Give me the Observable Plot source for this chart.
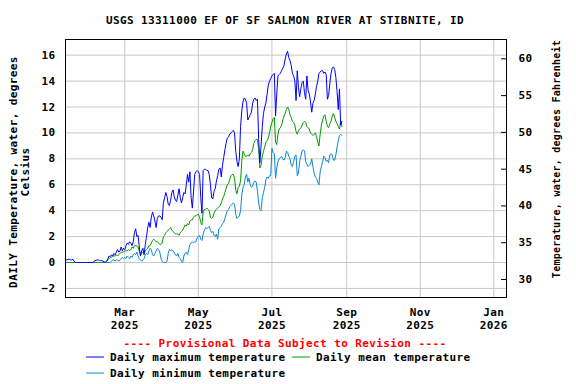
<!DOCTYPE html>
<html><head><meta charset="utf-8">
<script src="https://cdn.jsdelivr.net/npm/d3@7"></script>
<script src="https://cdn.jsdelivr.net/npm/@observablehq/plot@0.6"></script>
<style>
body{margin:0;background:#fff;overflow:hidden}
#chart{position:relative;width:576px;height:384px}
</style></head><body><div id="chart"></div>
<script>
// Daily values starting 2025-01-10 (one value per day), degrees Celsius
const startYear = 2025, startMonth = 0, startDay = 10;
const maxTemp = [
0.1,0.2,0.2,0.25,0.25,0.2,0.2,0.25,0.1,0,
0,0,0,0,0,0,0,0,0,0,
0,0,0,0,0,0.15,0.15,0.2,0.2,0.15,
0.15,0.15,0.1,0.05,0.05,0.1,0.3,0.5,0.45,0.6,
0.5,0.7,0.6,0.8,1.0,0.8,0.9,1.2,0.9,1.1,
1.0,1.3,1.5,1.4,1.6,1.5,1.3,1.6,2.3,2.6,
2.0,2.1,1.2,0.5,0.9,1.1,0.6,1.4,2.0,2.7,
3.1,2.7,3.5,3.9,3.6,3.2,2.7,3.4,3.6,3.6,
3.5,3.3,4.6,5.0,5.4,5.1,4.5,4.4,4.8,5.4,
5.6,5.1,4.8,4.7,5.2,5.7,5.0,4.6,5.0,5.4,
5.3,6.0,6.8,6.2,7.0,5.0,4.2,5.5,6.8,7.0,
7.1,7.0,6.8,5.0,3.8,7.1,7.2,7.2,7.1,7.1,
6.8,6.0,5.0,4.9,5.5,5.7,6.3,6.7,7.2,7.3,
6.6,7.5,8.1,8.7,9.2,9.6,9.7,9.9,10.0,10.1,
10.2,10.0,8.6,7.8,7.4,8.0,10.5,11.7,12.4,12.7,
12.6,12.3,11.0,11.2,11.4,11.6,12.3,12.6,12.7,12.5,
12.6,9.5,7.7,9.0,10.5,11.5,12.0,12.3,13.0,13.7,
14.0,14.2,14.4,14.5,14.6,11.3,13.0,14.4,14.5,14.6,
14.8,15.0,15.2,15.7,16.1,16.3,15.8,15.6,15.2,14.6,
14.4,14.0,12.5,14.8,13.5,12.8,13.4,13.9,14.0,13.1,
12.6,14.4,13.3,13.0,12.4,11.6,12.3,12.5,13.0,13.6,
14.0,14.6,14.7,14.8,14.8,14.6,14.7,14.5,12.6,12.9,
13.8,14.6,15.0,15.1,14.9,14.3,13.2,11.8,13.4,10.6,
10.9];
const meanTemp = [
0,0,0,0,0,0,0,0,0,0,
0,0,0,0,0,0,0,0,0,0,
0,0,0,0,0,0,0,0,0,0,
0,0,0,0,0,0.1,0.2,0.3,0.4,0.4,
0.5,0.5,0.5,0.6,0.5,0.6,0.7,0.8,0.8,0.8,
0.9,0.9,0.9,1.0,0.9,1.0,1.2,1.1,1.3,1.3,
1.3,1.2,0.9,0.6,0.7,0.8,0.7,0.9,1.0,1.1,
1.3,1.3,1.5,1.7,1.8,1.7,1.6,1.6,1.5,1.4,
1.4,1.5,2.0,2.1,2.3,2.4,2.5,2.6,2.7,2.5,
2.4,2.3,2.2,2.2,2.2,2.1,2.3,2.4,2.5,2.7,
2.9,2.8,3.0,2.9,3.2,3.3,3.3,3.5,3.6,3.6,
3.7,3.7,3.5,3.1,2.9,3.9,4.1,4.1,4.2,4.1,
4.0,3.5,3.4,3.5,3.8,4.0,4.1,4.2,4.3,4.4,
4.6,4.9,5.1,5.4,5.7,6.0,6.1,6.4,6.7,6.8,
6.8,6.5,5.6,5.3,5.8,5.9,6.3,7.8,8.6,8.4,
8.2,8.2,8.3,8.2,8.4,8.5,8.7,9.2,9.4,9.5,
9.5,8.8,7.3,7.5,8.2,8.6,8.9,9.3,9.4,9.6,
10.0,10.5,10.8,11.1,11.2,9.3,9.1,9.9,10.3,10.4,
10.6,11.0,11.3,11.5,11.8,12.0,11.8,11.4,11.2,10.9,
10.8,10.6,10.1,9.9,10.2,10.3,10.4,10.6,10.8,10.9,
10.8,10.5,10.4,10.3,10.0,9.9,9.8,9.9,10.0,9.7,
9.3,9.0,9.9,10.6,11.0,11.3,11.4,10.9,10.5,10.4,
10.7,10.9,11.3,11.5,11.2,10.9,10.7,10.5,10.3,10.9,
10.5];
const minTemp = [
0,0,0,0,0,0,0,0,0,0,
0,0,0,0,0,0,0,0,0,0,
0,0,0,0,0,0,0,0,0,0,
0,0,0,0,0,0,0,0,0,0.1,
0.2,0.2,0.1,0.2,0.2,0.1,0.2,0.3,0.4,0.3,
0.4,0.3,0.5,0.4,0.3,0.5,0.4,0.6,0.7,0.6,
0.8,0.5,0.3,0.2,0.1,0.2,0.3,0.6,0.7,0.6,
0.9,1.1,1.0,0.6,0.5,0.7,0.9,1.1,1.0,0.8,
0.3,0.1,0,0,0,0.1,0.7,1.0,0.9,1.0,
0.9,0.8,0.6,0.5,0.7,0.4,0.3,0.1,0,0.5,
0.7,0.8,0.6,1.0,1.4,1.5,1.6,1.5,1.6,1.6,
1.9,2.0,2.1,1.8,1.7,2.2,2.5,2.7,2.6,2.7,
2.8,2.5,2.3,2.4,2.1,2.0,2.2,1.8,2.6,2.7,
2.8,3.0,3.1,3.4,3.7,4.0,4.1,4.3,4.4,4.5,
4.6,4.5,3.7,3.4,3.5,3.6,4.0,5.2,5.8,6.0,
6.6,6.8,6.2,6.5,6.0,5.8,5.9,6.2,6.3,6.2,
5.5,4.6,4.1,4.0,5.0,5.4,5.8,6.4,6.6,6.5,
6.7,6.7,8.8,8.5,8.4,6.5,7.3,7.8,8.0,8.1,
8.2,8.0,7.9,8.1,8.6,8.5,8.2,8.0,7.5,7.4,
7.8,8.2,8.3,6.7,6.9,7.8,8.2,8.6,8.7,8.6,
7.8,7.6,7.4,7.5,7.6,8.0,7.4,6.9,6.6,6.5,
6.2,6.0,7.0,7.4,7.8,8.2,8.1,7.8,7.9,7.7,
8.3,8.4,8.3,7.9,7.9,8.3,8.9,9.4,9.8,9.9,
9.8];

const seriesNames = ["Daily maximum temperature", "Daily mean temperature", "Daily minimum temperature"];
const seriesColors = ["#0000ff", "#009900", "#0a87d0"];
const cTicks = [-2, 0, 2, 4, 6, 8, 10, 12, 14, 16];
const fTicks = [30, 35, 40, 45, 50, 55, 60];
const xTickDates = ["2025-03-01", "2025-05-01", "2025-07-01", "2025-09-01", "2025-11-01", "2026-01-01"];
const xTickLabels = ["Mar\n2025", "May\n2025", "Jul\n2025", "Sep\n2025", "Nov\n2025", "Jan\n2026"];
const cDomain = [-2.70, 17.21];
const fDomain = [27.55, 62.63];
const xDomain = ["2025-01-10T20:00Z", "2026-01-11T12:00Z"];
const titleText = "USGS 13311000 EF OF SF SALMON RIVER AT STIBNITE, ID";
const leftLabel = ["DAILY Temperature, water, degrees", "Celsius"];
const rightLabel = "Temperature, water, degrees Fahrenheit";
const noticeText = "---- Provisional Data Subject to Revision ----";

function toRows(values, series) {
  return values.map((v, i) => ({date: new Date(Date.UTC(startYear, startMonth, startDay + i)), value: v, series}));
}
const rowsMax = toRows(maxTemp, seriesNames[0]);
const rowsMean = toRows(meanTemp, seriesNames[1]);
const rowsMin = toRows(minTemp, seriesNames[2]);

const fPos = fTicks.map(f => cDomain[0] + (f - fDomain[0]) / (fDomain[1] - fDomain[0]) * (cDomain[1] - cDomain[0]));
const fLabel = new Map(fPos.map((p, i) => [p, fTicks[i]]));
const tickDates = xTickDates.map(s => new Date(s + "T00:00Z"));
const tickLabelMap = new Map(tickDates.map((d, i) => [+d, xTickLabels[i]]));

const FONT = "'DejaVu Sans Mono', monospace";
const grid = "#c8c8c8";
const plot = Plot.plot({
  width: 576, height: 384,
  marginTop: 39, marginBottom: 87, marginLeft: 65, marginRight: 70,
  style: {fontFamily: FONT, fontSize: "11px", fontWeight: "bold", letterSpacing: "0.4px", background: "white", color: "black"},
  x: {type: "utc", domain: xDomain.map(s => new Date(s))},
  y: {domain: cDomain},
  marks: [
    Plot.gridX(tickDates, {stroke: grid, strokeOpacity: 1, strokeWidth: 1}),
    Plot.gridY(cTicks, {stroke: grid, strokeOpacity: 1, strokeWidth: 1}),
    Plot.lineY(rowsMin, {x: "date", y: "value", stroke: seriesColors[2], strokeWidth: 1, clip: true}),
    Plot.lineY(rowsMean, {x: "date", y: "value", stroke: seriesColors[1], strokeWidth: 1, clip: true}),
    Plot.lineY(rowsMax, {x: "date", y: "value", stroke: seriesColors[0], strokeWidth: 1, clip: true}),
    Plot.tickY(fPos, {y: d => d, insetLeft: 436, stroke: "black"}),
    Plot.frame({stroke: "black", strokeWidth: 1}),
    Plot.axisY(cTicks, {anchor: "left", tickSize: 0, tickPadding: 10, label: null}),
    Plot.axisY(fPos, {anchor: "right", tickSize: 0, tickPadding: 12, tickFormat: d => fLabel.get(d), label: null}),
    Plot.axisX(tickDates, {anchor: "bottom", tickSize: 0, tickPadding: 9, tickFormat: d => tickLabelMap.get(+d), label: null, lineHeight: 1.2})
  ]
});
document.getElementById("chart").appendChild(plot);

const svg = d3.select(plot);
const g = svg.append("g").attr("font-family", FONT).attr("font-weight", "bold").attr("font-size", 11).attr("fill", "black").attr("text-anchor", "start");
g.append("text").attr("x", 285).attr("y", 24).attr("text-anchor", "middle").attr("letter-spacing", "0.4px").text(titleText);
g.append("text").attr("transform", "translate(16.5,172) rotate(-90)").attr("text-anchor", "middle").attr("letter-spacing", "0.4px").text(leftLabel[0]);
g.append("text").attr("transform", "translate(28.5,172) rotate(-90)").attr("text-anchor", "middle").attr("letter-spacing", "0.4px").text(leftLabel[1]);
g.append("text").attr("transform", "translate(560,159) rotate(-90)").attr("text-anchor", "middle").attr("font-size", 10).attr("letter-spacing", "0.25px").text(rightLabel);
g.append("text").attr("x", 285).attr("y", 347).attr("text-anchor", "middle").attr("letter-spacing", "0.4px").attr("fill", "#ff0000").text(noticeText);

const legendItems = [
  {name: seriesNames[0], color: seriesColors[0], x: 86, y: 357},
  {name: seriesNames[1], color: seriesColors[1], x: 292, y: 357},
  {name: seriesNames[2], color: seriesColors[2], x: 86, y: 373}
];
for (const it of legendItems) {
  g.append("line").attr("x1", it.x).attr("x2", it.x + 18).attr("y1", it.y).attr("y2", it.y).attr("stroke", it.color).attr("stroke-width", 1);
  g.append("text").attr("x", it.x + 24).attr("y", it.y + 4).attr("text-anchor", "start").attr("letter-spacing", "0.4px").text(it.name);
}
</script>
</body></html>
